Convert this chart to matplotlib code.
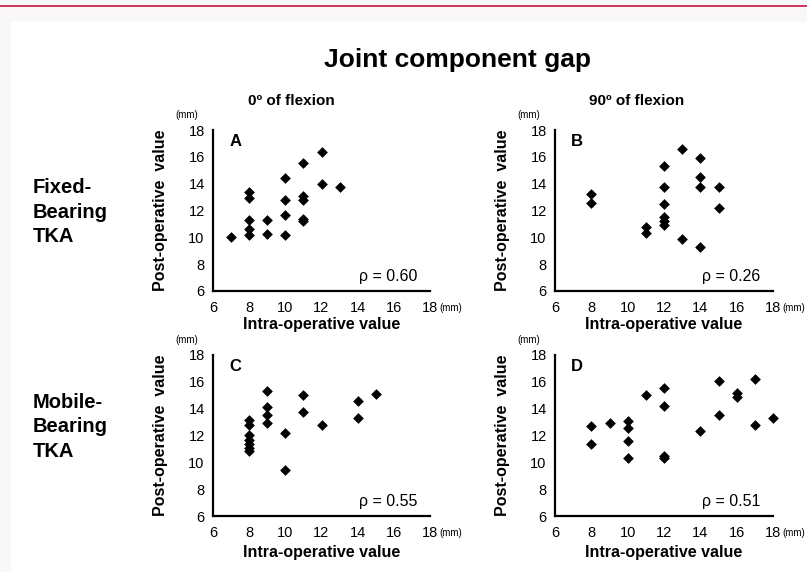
import matplotlib
matplotlib.use("Agg")
import matplotlib.pyplot as plt
from matplotlib.patches import Rectangle
from matplotlib.lines import Line2D

plt.rcParams["font.family"] = ["Liberation Sans", "DejaVu Sans"]

W, H = 807, 572

# panel data (intra-operative vs post-operative gap, mm)
a_x = [7, 8, 8, 8, 8, 8, 9, 9, 10, 10, 10, 10, 11, 11, 11, 11, 11, 12, 12, 13]
a_y = [10.05, 13.4, 12.9, 11.3, 10.6, 10.2, 11.3, 10.25, 14.4, 12.8, 11.7, 10.2,
       15.55, 13.1, 12.75, 11.4, 11.2, 16.35, 14.0, 13.75]

b_x = [8, 8, 11, 11, 12, 12, 12, 12, 12, 12, 13, 13, 14, 14, 14, 14, 15, 15]
b_y = [13.2, 12.55, 10.8, 10.3, 15.3, 13.75, 12.45, 11.5, 11.2, 10.9,
       16.6, 9.9, 15.9, 14.5, 13.75, 9.3, 13.75, 12.2]

c_x = [8, 8, 8, 8, 8, 8, 8, 9, 9, 9, 9, 10, 10, 11, 11, 12, 14, 14, 15]
c_y = [13.15, 12.8, 12.05, 11.7, 11.4, 11.1, 10.85, 15.3, 14.1, 13.5, 12.9,
       12.15, 9.45, 15.0, 13.75, 12.8, 14.6, 13.3, 15.1]

d_x = [8, 8, 9, 10, 10, 10, 10, 11, 12, 12, 12, 12, 14, 15, 15, 16, 16, 17, 17, 18]
d_y = [12.7, 11.35, 12.95, 13.1, 12.55, 11.6, 10.3, 15.0, 15.55, 14.2, 10.5, 10.35,
       12.35, 16.05, 13.55, 15.2, 14.9, 16.2, 12.75, 13.3]

letters = ["A", "B", "C", "D"]
rhos = ["ρ = 0.60", "ρ = 0.26", "ρ = 0.55", "ρ = 0.51"]
ticks = [6, 8, 10, 12, 14, 16, 18]
col_titles = ["0º of flexion", "90º of flexion"]
row_titles = ["Fixed-\nBearing\nTKA", "Mobile-\nBearing\nTKA"]


def fx(px):
    return px / W


def fy(py):
    return 1 - py / H


fig = plt.figure(figsize=(W / 100, H / 100), dpi=100)
fig.patch.set_facecolor("#f9f7f7")
fig.patches.append(Rectangle((fx(11), 0), 1, fy(22), transform=fig.transFigure,
                             facecolor="white", edgecolor="none", zorder=-5))
fig.lines.append(Line2D([0, 1], [fy(5.5), fy(5.5)], transform=fig.transFigure,
                        color="#c8163c", linewidth=1.2, zorder=-4))

# axes boxes in pixels: left, top, right, bottom
boxes = [(213, 130, 430, 291), (555, 130, 773, 291),
         (213, 355, 430, 516), (555, 355, 773, 516)]
data = [(a_x, a_y), (b_x, b_y), (c_x, c_y), (d_x, d_y)]

for i, ((l, t, r, b), (xs, ys)) in enumerate(zip(boxes, data)):
    ax = fig.add_axes([fx(l), fy(b), fx(r - l), (b - t) / H])
    ax.set_facecolor("none")
    ax.scatter(xs, ys, marker="D", s=30, color="black", linewidths=0,
               clip_on=False, zorder=3)
    ax.set_xlim(6, 18)
    ax.set_ylim(6, 18)
    ax.set_xticks(ticks)
    ax.set_yticks(ticks)
    ax.tick_params(length=0, labelsize=10.5)
    ax.tick_params(axis="y", pad=6)
    ax.tick_params(axis="x", pad=7)
    for s in ["top", "right"]:
        ax.spines[s].set_visible(False)
    for s in ["left", "bottom"]:
        ax.spines[s].set_linewidth(1.6)
    ax.text(0.075, 0.93, letters[i], transform=ax.transAxes, fontsize=12,
            fontweight="bold", va="center", ha="left")
    ax.text(0.94, 0.09, rhos[i], transform=ax.transAxes, fontsize=11.5,
            va="center", ha="right")

    cx = (l + r) / 2
    fig.text(fx(l - 53), fy((t + b) / 2), "Post-operative  value", rotation=90,
             fontsize=11.5, fontweight="bold", ha="center", va="center")
    fig.text(fx(cx), fy(b + 34 if i < 2 else b + 36), "Intra-operative value",
             fontsize=11.5, fontweight="bold", ha="center", va="center")
    fig.text(fx(l - 26), fy(t - 15), "(mm)", fontsize=7, ha="center", va="center")
    fig.text(fx(r + 9), fy(b + 17), "(mm)", fontsize=7, ha="left", va="center")

fig.text(fx(457), fy(60), "Joint component gap", fontsize=19, fontweight="bold",
         ha="center", va="center")
fig.text(fx(291), fy(101), col_titles[0], fontsize=11, fontweight="bold",
         ha="center", va="center")
fig.text(fx(637), fy(101), col_titles[1], fontsize=11, fontweight="bold",
         ha="center", va="center")
fig.text(fx(33), fy(212), row_titles[0], fontsize=14.5, fontweight="bold",
         ha="left", va="center", linespacing=1.35)
fig.text(fx(33), fy(427), row_titles[1], fontsize=14.5, fontweight="bold",
         ha="left", va="center", linespacing=1.35)

fig.savefig("out.png", dpi=100, facecolor=fig.get_facecolor())
